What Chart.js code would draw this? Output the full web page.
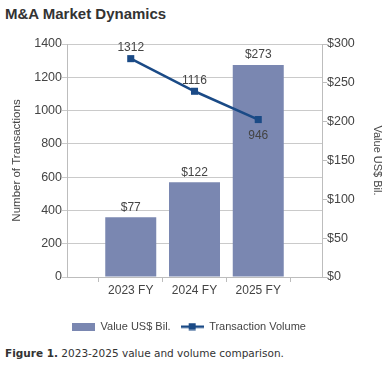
<!DOCTYPE html>
<html>
<head>
<meta charset="utf-8">
<script src="https://cdn.jsdelivr.net/npm/chart.js@4.4.1/dist/chart.umd.min.js"></script>
<style>
  html, body { margin: 0; padding: 0; background: #fff; }
  body { width: 390px; height: 380px; position: relative; overflow: hidden; }
  #title { position: absolute; left: 5px; top: 6px; font: bold 15px/16px "Liberation Sans", Arial, sans-serif; color: #333; }
  #wrap { position: absolute; left: 0; top: 30px; width: 390px; height: 312px; }
  #caption { position: absolute; left: 5px; top: 346px; font: 10.5px/14px "DejaVu Sans", Verdana, sans-serif; color: #333; white-space: nowrap; }
</style>
</head>
<body>
<div id="title">M&amp;A Market Dynamics</div>
<div id="wrap"><canvas id="chart"></canvas></div>
<div id="caption"><b>Figure 1.</b> 2023-2025 value and volume comparison.</div>
<script>
const categories = ['2023 FY', '2024 FY', '2025 FY'];
const valueBil = [77, 122, 273];
const transactions = [1312, 1116, 946];
const leftTicks = [0, 200, 400, 600, 800, 1000, 1200, 1400];
const rightTicks = [0, 50, 100, 150, 200, 250, 300];
// which volume labels sit under their point instead of above
const volumeLabelBelow = [false, false, true];

const barColor = '#7a87b1';
const lineColor = '#1a4a86';
const textColor = '#444';
const fontFamily = '"Liberation Sans", Arial, sans-serif';

// half an empty slot on each side of the categories, like the original
const pad = arr => [null].concat(arr, [null]);
const labels = [''].concat(categories, ['']);

function makeIcon(w, h, draw) {
    let c = document.createElement('canvas');
    c.width = w;
    c.height = h;
    draw(c.getContext('2d'));
    return c;
}

const barIcon = makeIcon(23, 8, function(g) {
    g.fillStyle = barColor;
    g.fillRect(0, 0, 23, 8);
});
const lineIcon = makeIcon(23, 8, function(g) {
    g.fillStyle = lineColor;
    g.fillRect(0, 3, 23, 2.5);
    g.fillRect(8, 0.5, 7, 7);
});

const valueLabels = {
    id: 'valueLabels',
    afterDatasetsDraw(chart) {
        let ctx = chart.ctx;
        ctx.save();
        ctx.font = '12px ' + fontFamily;
        ctx.fillStyle = textColor;
        ctx.textAlign = 'center';
        ctx.textBaseline = 'middle';

        let bars = chart.getDatasetMeta(0).data;
        bars.forEach(function(bar, i) {
            let v = chart.data.datasets[0].data[i];
            if (v == null) return;
            ctx.fillText('$' + v, bar.x, bar.y - 10);
        });

        let points = chart.getDatasetMeta(1).data;
        points.forEach(function(pt, i) {
            let v = chart.data.datasets[1].data[i];
            if (v == null) return;
            let below = volumeLabelBelow[i - 1];
            ctx.fillText(String(v), pt.x, below ? pt.y + 16 : pt.y - 11);
        });
        ctx.restore();
    }
};

Chart.defaults.font.family = fontFamily;
Chart.defaults.color = textColor;

new Chart(document.getElementById('chart'), {
    type: 'bar',
    data: {
        labels: labels,
        datasets: [{
            type: 'bar',
            label: 'Value US$ Bil.',
            data: pad(valueBil),
            backgroundColor: barColor,
            yAxisID: 'y1',
            categoryPercentage: 0.8,
            barPercentage: 1.0,
            order: 1
        }, {
            type: 'line',
            label: 'Transaction Volume',
            data: pad(transactions),
            borderColor: lineColor,
            backgroundColor: lineColor,
            borderWidth: 2.5,
            pointStyle: 'rect',
            pointRadius: 5,
            pointBorderWidth: 0,
            yAxisID: 'y',
            order: 0
        }]
    },
    options: {
        responsive: true,
        maintainAspectRatio: false,
        animation: false,
        // right padding pulls the legend a bit left, as in the original
        layout: { padding: { top: 14, right: 12 } },
        plugins: {
            tooltip: { enabled: false },
            legend: {
                position: 'bottom',
                labels: {
                    usePointStyle: true,
                    pointStyleWidth: 23,
                    font: { size: 11 },
                    color: textColor,
                    padding: 10,
                    generateLabels: function(chart) {
                        return chart.data.datasets.map(function(ds, i) {
                            return {
                                text: ds.label,
                                datasetIndex: i,
                                pointStyle: i === 0 ? barIcon : lineIcon,
                                fillStyle: i === 0 ? barColor : lineColor,
                                strokeStyle: i === 0 ? barColor : lineColor,
                                lineWidth: 0,
                                hidden: false,
                                fontColor: textColor
                            };
                        });
                    }
                }
            }
        },
        scales: {
            x: {
                offset: false,
                grid: { drawOnChartArea: false, tickLength: 5, color: '#bdbdbd' },
                border: { color: '#bdbdbd' },
                ticks: { font: { size: 12 }, padding: 1, maxRotation: 0, autoSkip: false },
                afterFit: function(s) { s.height = 34; }
            },
            y: {
                position: 'left',
                min: 0,
                max: 1400,
                afterBuildTicks: function(s) { s.ticks = leftTicks.map(v => ({ value: v })); },
                grid: { color: '#cacaca', tickLength: 5 },
                border: { color: '#bdbdbd' },
                ticks: { font: { size: 12.5 }, padding: 0, callback: v => String(v) },
                title: { display: true, text: 'Number of Transactions', font: { size: 11.5 }, padding: { top: 10, bottom: 0 } },
                afterFit: function(s) { s.width = 67; }
            },
            y1: {
                position: 'right',
                min: 0,
                max: 300,
                afterBuildTicks: function(s) { s.ticks = rightTicks.map(v => ({ value: v })); },
                grid: { drawOnChartArea: false, tickLength: 5, color: '#bdbdbd' },
                border: { color: '#bdbdbd' },
                ticks: { font: { size: 12.5 }, padding: 0, callback: v => '$' + v },
                title: { display: true, text: 'Value US$ Bil.', font: { size: 11 }, padding: { top: -6, bottom: 0 } },
                afterFit: function(s) { s.width = 56; }
            }
        }
    },
    plugins: [valueLabels]
});
</script>
</body>
</html>
